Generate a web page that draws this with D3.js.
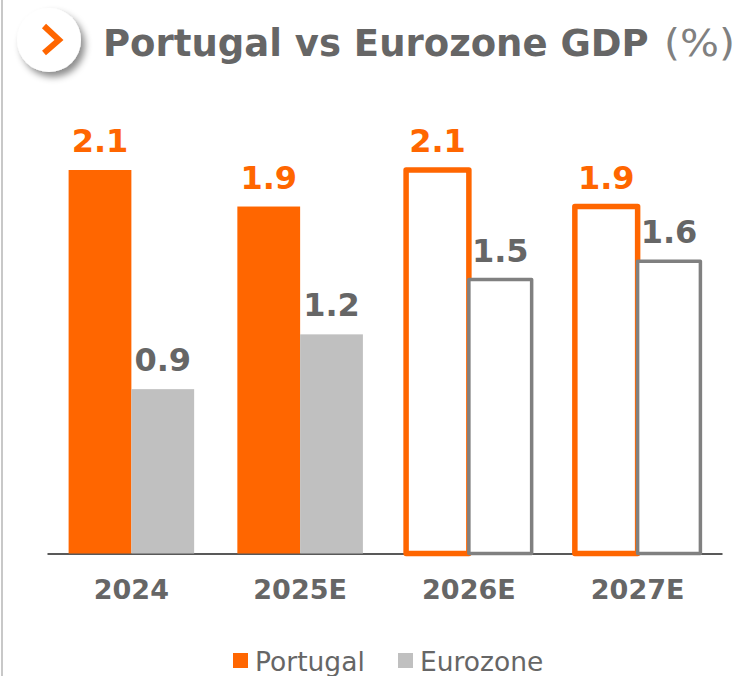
<!DOCTYPE html>
<html>
<head>
<meta charset="utf-8">
<script src="https://cdn.jsdelivr.net/npm/d3@7"></script>
<style>
  html, body { margin: 0; padding: 0; background: #fff; overflow: hidden; }
  svg { display: block; font-family: "DejaVu Sans", sans-serif; }
</style>
</head>
<body>
<div id="container"></div>
<script>
var years = ["2024", "2025E", "2026E", "2027E"];
var seriesNames = ["Portugal", "Eurozone"];
var portugal = [2.1, 1.9, 2.1, 1.9];
var eurozone = [0.9, 1.2, 1.5, 1.6];
var forecast = [false, false, true, true];

var orange = "#ff6600", grey = "#c0c0c0", outlineGrey = "#808080", textGrey = "#666666";

var width = 741, height = 676;
var svg = d3.select("#container").append("svg")
    .attr("width", width)
    .attr("height", height);

var defs = svg.append("defs");
var shadow = defs.append("filter").attr("id", "shadow")
    .attr("x", "-30%").attr("y", "-30%").attr("width", "170%").attr("height", "170%");
shadow.append("feDropShadow")
    .attr("dx", 4).attr("dy", 5).attr("stdDeviation", 3.5)
    .attr("flood-color", "#000").attr("flood-opacity", 0.45);

// page edge line on the left
svg.append("rect").attr("x", 1).attr("y", 0).attr("width", 2).attr("height", height).attr("fill", "#c8c8c8");

// title badge
svg.append("circle").attr("cx", 49).attr("cy", 40).attr("r", 32)
    .attr("fill", "#fff").attr("filter", "url(#shadow)");
svg.append("path").attr("d", d3.line()([[44, 26], [59, 40], [44, 53]]))
    .attr("fill", "none").attr("stroke", orange).attr("stroke-width", 6);

svg.append("text").attr("x", 103).attr("y", 56)
    .attr("font-size", 37).attr("font-weight", "bold").attr("fill", textGrey)
    .text("Portugal vs Eurozone GDP");
svg.append("text").attr("x", 664).attr("y", 56)
    .attr("font-size", 37).attr("fill", "#808080")
    .attr("textLength", 71).attr("lengthAdjust", "spacingAndGlyphs")
    .text("(%)");

// chart
var margin = { left: 47, right: 19, baseline: 553.5 };
var x0 = d3.scaleBand().domain(years).range([margin.left, width - margin.right]).paddingInner(0.256).paddingOuter(0.128);
var x1 = d3.scaleBand().domain(seriesNames).range([0, x0.bandwidth()]);
var y = d3.scaleLinear().domain([0, 2.1]).range([margin.baseline, 170]);

var rows = years.map(function(d, i) {
  return [
    { year: d, name: "Portugal", value: portugal[i], est: forecast[i] },
    { year: d, name: "Eurozone", value: eurozone[i], est: forecast[i] }
  ];
});

// category axis, under the bars
var axis = svg.append("g").attr("transform", "translate(0," + margin.baseline + ")")
    .call(d3.axisBottom(x0).tickSize(0).tickPadding(26));
axis.select(".domain").attr("stroke", "#595959").attr("stroke-width", 2);
axis.selectAll("text")
    .attr("font-family", "DejaVu Sans")
    .attr("font-size", 27)
    .attr("font-weight", "bold")
    .attr("fill", textGrey);

var group = svg.selectAll("g.year").data(rows).enter().append("g")
    .attr("class", "year")
    .attr("transform", function(d) { return "translate(" + x0(d[0].year) + ",0)"; });

group.selectAll("rect").data(function(d) { return d; }).enter().append("rect")
    .attr("x", function(d) { return x1(d.name); })
    .attr("y", function(d) { return y(d.value); })
    .attr("width", x1.bandwidth())
    .attr("height", function(d) { return y(0) - y(d.value); })
    .attr("fill", function(d) { return d.est ? "#fff" : (d.name == "Portugal" ? orange : grey); })
    .attr("stroke", function(d) { return d.est ? (d.name == "Portugal" ? orange : outlineGrey) : "none"; })
    .attr("stroke-width", function(d) { return d.name == "Portugal" ? 5.5 : 3.5; })
    .attr("stroke-linejoin", "round");

group.selectAll("text").data(function(d) { return d; }).enter().append("text")
    .attr("x", function(d) { return x1(d.name) + x1.bandwidth() / 2; })
    .attr("y", function(d) { return y(d.value) - 18; })
    .attr("text-anchor", "middle")
    .attr("font-size", 32)
    .attr("font-weight", "bold")
    .attr("fill", function(d) { return d.name == "Portugal" ? orange : textGrey; })
    .text(function(d) { return d.value.toFixed(1); });

// legend
var legendX = [233, 398], legendText = [255, 420];
seriesNames.forEach(function(name, i) {
  svg.append("rect").attr("x", legendX[i]).attr("y", 653).attr("width", 15).attr("height", 15)
      .attr("fill", i == 0 ? orange : grey);
  svg.append("text").attr("x", legendText[i]).attr("y", 671)
      .attr("font-size", 26.5).attr("fill", textGrey).text(name);
});
</script>
</body>
</html>
